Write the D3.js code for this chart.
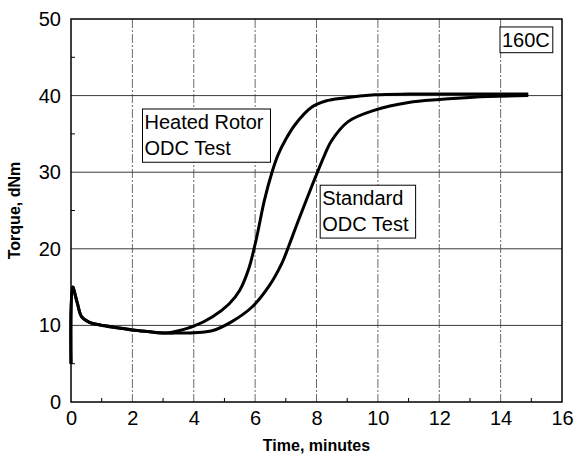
<!DOCTYPE html>
<html>
<head>
<meta charset="utf-8">
<script src="https://cdn.jsdelivr.net/npm/d3@7"></script>
<style>
  body { margin: 0; background: #fff; }
  svg { display: block; font-family: "Liberation Sans", Arial, sans-serif; }
</style>
</head>
<body>
<svg width="577" height="457"></svg>
<script>
// values (time in minutes, torque in dNm)
var heatedTime   = [0, 0.05, 0.2, 0.35, 0.6, 0.95, 1.5, 2.0, 2.5, 3.1, 3.5, 4.0, 4.6, 5.15, 5.5, 5.8, 6.05, 6.3, 6.55, 6.75, 7.0, 7.3, 7.85, 8.3, 8.9, 9.9, 11, 13, 14.9];
var heatedTorque = [5, 15, 13, 11.1, 10.4, 10.05, 9.7, 9.4, 9.2, 9.0, 9.3, 9.9, 11.1, 12.8, 14.6, 17.5, 21.5, 26.3, 30.0, 32.3, 34.3, 36.2, 38.5, 39.3, 39.7, 40.1, 40.2, 40.2, 40.2];

var standardTime   = [0, 0.05, 0.2, 0.35, 0.6, 0.95, 1.5, 2.0, 2.5, 3.1, 3.5, 4.0, 4.6, 5.2, 5.9, 6.44, 6.87, 7.1, 7.4, 7.84, 8.27, 8.49, 9.03, 9.9, 11, 12, 13.1, 14.9];
var standardTorque = [5, 15, 13, 11.1, 10.4, 10.05, 9.7, 9.4, 9.2, 9.0, 9.0, 9.05, 9.3, 10.4, 12.4, 15.05, 18.1, 20.4, 23.6, 28.1, 32.3, 34.1, 36.6, 38.1, 39.1, 39.5, 39.8, 40.0];

var xTicks = [0, 2, 4, 6, 8, 10, 12, 14, 16];
var yTicks = [0, 10, 20, 30, 40, 50];
var xMinor = [1, 3, 5, 7, 9, 11, 13, 15];
var yMinor = [5, 15, 25, 35, 45];

var svg = d3.select("svg"),
    margin = {top: 19, right: 15, bottom: 55, left: 71},
    width = 577 - margin.left - margin.right,
    height = 457 - margin.top - margin.bottom,
    g = svg.append("g").attr("transform", "translate(" + margin.left + "," + margin.top + ")");

var x = d3.scaleLinear().domain([0, 16]).range([0, width]);
var y = d3.scaleLinear().domain([0, 50]).range([height, 0]);

// grid
g.append("g")
    .selectAll("line")
    .data(xTicks.slice(1, -1))
    .enter().append("line")
    .attr("x1", function(d) { return x(d); })
    .attr("x2", function(d) { return x(d); })
    .attr("y1", 0)
    .attr("y2", height)
    .attr("stroke", "#6a6a6a")
    .attr("stroke-width", 1)
    .attr("stroke-dasharray", "9,2,2,2");

g.append("g")
    .selectAll("line")
    .data(yTicks.slice(1, -1))
    .enter().append("line")
    .attr("x1", 0)
    .attr("x2", width)
    .attr("y1", function(d) { return y(d); })
    .attr("y2", function(d) { return y(d); })
    .attr("stroke", "#3a3a3a")
    .attr("stroke-width", 1);

// minor ticks (inside)
g.append("g")
    .selectAll("line")
    .data(xMinor)
    .enter().append("line")
    .attr("x1", function(d) { return x(d); })
    .attr("x2", function(d) { return x(d); })
    .attr("y1", height)
    .attr("y2", height - 4)
    .attr("stroke", "#000");

g.append("g")
    .selectAll("line")
    .data(yMinor)
    .enter().append("line")
    .attr("x1", 0)
    .attr("x2", 4)
    .attr("y1", function(d) { return y(d); })
    .attr("y2", function(d) { return y(d); })
    .attr("stroke", "#000");

// axes
var xAxis = g.append("g")
    .attr("transform", "translate(0," + height + ")")
    .call(d3.axisBottom(x).tickValues(xTicks).tickSize(0).tickPadding(9));
var yAxis = g.append("g")
    .call(d3.axisLeft(y).tickValues(yTicks).tickSize(0).tickPadding(10));

[xAxis, yAxis].forEach(function(a) {
    a.select(".domain").remove();
    a.selectAll("text")
        .attr("font-family", "'Liberation Sans', Arial, sans-serif")
        .attr("font-size", 20)
        .attr("fill", "#000");
});

// frame
g.append("rect")
    .attr("width", width)
    .attr("height", height)
    .attr("fill", "none")
    .attr("stroke", "#000")
    .attr("stroke-width", 1.5);

g.append("text")
    .attr("x", width / 2)
    .attr("y", height + 49)
    .attr("text-anchor", "middle")
    .attr("font-size", 16)
    .attr("font-weight", "bold")
    .text("Time, minutes");

g.append("text")
    .attr("transform", "translate(" + (-51) + "," + (height / 2) + ") rotate(-90)")
    .attr("text-anchor", "middle")
    .attr("font-size", 16)
    .attr("font-weight", "bold")
    .text("Torque, dNm");

// curves
var line = d3.line()
    .x(function(d) { return x(d[0]); })
    .y(function(d) { return y(d[1]); })
    .curve(d3.curveCatmullRom.alpha(0.5));

var series = [
    d3.zip(standardTime, standardTorque),
    d3.zip(heatedTime, heatedTorque)
];

g.append("g")
    .selectAll("path")
    .data(series)
    .enter().append("path")
    .attr("d", line)
    .attr("fill", "none")
    .attr("stroke", "#000")
    .attr("stroke-width", 3)
    .attr("stroke-linejoin", "round");

// annotation boxes, placed in data space
var notes = [
    {x0: 2.33, x1: 6.5, y0: 38.25, y1: 31.3, lines: ["Heated Rotor", "ODC Test"]},
    {x0: 8.12, x1: 11.23, y0: 28.3, y1: 21.4, lines: ["Standard", "ODC Test"]},
    {x0: 13.98, x1: 15.7, y0: 48.96, y1: 45.6, lines: ["160C"]}
];

var note = g.append("g")
    .selectAll("g")
    .data(notes)
    .enter().append("g");

note.append("rect")
    .attr("x", function(d) { return x(d.x0); })
    .attr("y", function(d) { return y(d.y0); })
    .attr("width", function(d) { return x(d.x1) - x(d.x0); })
    .attr("height", function(d) { return y(d.y1) - y(d.y0); })
    .attr("fill", "#fff")
    .attr("stroke", "#000")
    .attr("stroke-width", 1);

note.each(function(d) {
    var t = d3.select(this);
    d.lines.forEach(function(s, i) {
        t.append("text")
            .attr("x", x(d.x0) + 2)
            .attr("y", y(d.y0) + 20 + i * 26)
            .attr("font-size", 20)
            .attr("fill", "#000")
            .text(s);
    });
});
</script>
</body>
</html>
